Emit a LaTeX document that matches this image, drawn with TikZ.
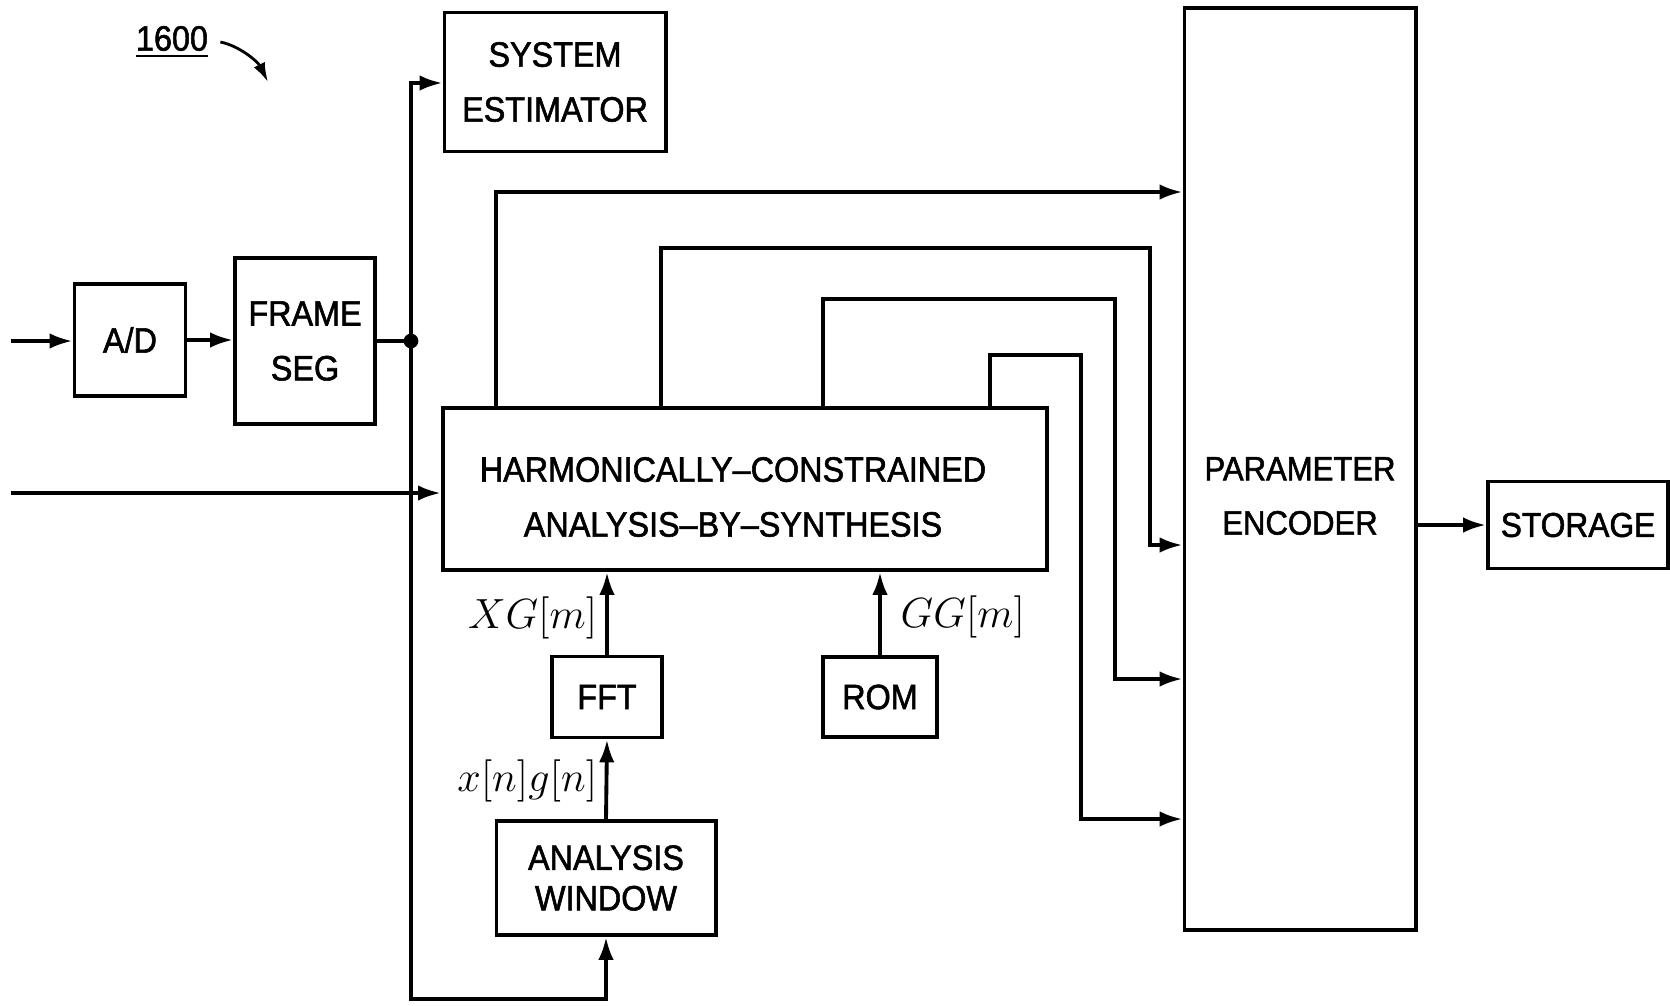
\documentclass[tikz,border=0pt]{standalone}
\usepackage{fontspec}
\setmainfont{Liberation Sans}[FakeStretch=0.92, FakeBold=1.6]
\usetikzlibrary{arrows.meta,positioning}

\begin{document}
\begin{tikzpicture}[
  x=0.01cm, y=-0.01cm,
  font=\fontsize{10}{15.6}\selectfont,
  blk/.style={draw, line width=1.1pt, align=center, inner sep=2pt},
  lbl/.style={font=\fontsize{13.2}{15}\selectfont, inner sep=0pt},
  arr/.style={-{Latex[length=6.5pt,width=4.4pt]}, line width=1.1pt},
  wire/.style={line width=1.1pt}
]
\useasboundingbox (0,0) rectangle (1670,1005);
%--- Figure number ----------------------------------------------------------
\node (fig) at (172,42) {\underline{1600}};
\coordinate (figtip) at (268,82);
\draw[-{Latex[length=5.5pt,width=3.5pt]}, line width=0.8pt]
  (fig.east) .. controls (240,46) and (258,62) .. (figtip);
%--- Front end: A/D, framing ------------------------------------------------
\node[blk, minimum width=1.11cm, minimum height=1.12cm] (ad)    at (130,340) {A/D};
\node[blk, minimum width=1.40cm, minimum height=1.66cm] (frame) at (305,341) {FRAME\\SEG};
\node[blk, minimum width=2.21cm, minimum height=1.39cm] (sysest) at (555,82) {SYSTEM\\ESTIMATOR};
%--- Analysis-by-synthesis core ---------------------------------------------
\node[blk, minimum width=6.04cm, minimum height=1.62cm] (hcabs) at (745,489) {};
\node[align=center] (hctext) at (733,497) {%
  HARMONICALLY--CONSTRAINED\\ANALYSIS--BY--SYNTHESIS};
\node[blk, minimum width=1.10cm, minimum height=0.81cm] (fft) at (607,697) {FFT};
\node[blk, minimum width=1.14cm, minimum height=0.80cm] (rom) at (880,697) {ROM};
\node[blk, minimum width=2.19cm, minimum height=1.14cm,
      font=\fontsize{10}{11.5}\selectfont] (window) at (606,878) {ANALYSIS\\WINDOW};
%--- Back end: encoder, storage ---------------------------------------------
\node[blk, minimum width=2.31cm, minimum height=9.21cm] (penc) at (1300,469) {};
\node[align=center, font=\fontsize{9.6}{15.4}\selectfont] (pentext) at (1300,496) {PARAMETER\\ENCODER};
\node[blk, minimum width=1.80cm, minimum height=0.87cm,
      font=\fontsize{9.8}{12}\selectfont] (store) at (1578,525) {STORAGE};
%--- Signal labels ----------------------------------------------------------
\node[lbl, anchor=east] (xglbl) at (598,618) {$XG[m]$};
\node[lbl, anchor=west] (gglbl) at (900,617) {$GG[m]$};
\node[lbl, anchor=east] (xnlbl) at (598,781) {$x[n]g[n]$};
%--- Input paths ------------------------------------------------------------
\coordinate (in1) at (11,341);
\coordinate (in2) at (11,493);
\coordinate (tap) at (411,341);
\coordinate (bus) at (411,83);
\coordinate (bot) at (411,999);
\draw[arr] (in1) -- (in1 -| ad.west);
\draw[arr] (ad.east) -- (ad.east -| frame.west);
\draw[wire] (frame.east |- tap) -- (tap);
\fill (tap) circle (2.1pt);
\draw[arr] (tap) -- (bus) -- (bus -| sysest.west);
\draw[arr] (tap) -- (bot) -- (bot -| window.south) -- (window.south);
\draw[arr] (in2) -- (in2 -| hcabs.west);
%--- Arrows into the core ---------------------------------------------------
\draw[arr] (window.north) -- (fft.south);
\draw[arr] (fft.north) -- (fft.north |- hcabs.south);
\draw[arr] (rom.north) -- (rom.north |- hcabs.south);
%--- Parameters to the encoder ----------------------------------------------
\coordinate (r1) at (496,192);
\coordinate (r2) at (661,248);  \coordinate (c2) at (1150,545);
\coordinate (r3) at (823,299);  \coordinate (c3) at (1115,679);
\coordinate (r4) at (990,355);  \coordinate (c4) at (1081,819);
\draw[arr] (r1 |- hcabs.north) -- (r1) -- (r1 -| penc.west);
\draw[arr] (r2 |- hcabs.north) -- (r2) -- (c2 |- r2) -- (c2) -- (c2 -| penc.west);
\draw[arr] (r3 |- hcabs.north) -- (r3) -- (c3 |- r3) -- (c3) -- (c3 -| penc.west);
\draw[arr] (r4 |- hcabs.north) -- (r4) -- (c4 |- r4) -- (c4) -- (c4 -| penc.west);
%--- Output -----------------------------------------------------------------
\draw[arr] (penc.east |- store) -- (store.west);
\end{tikzpicture}
\end{document}
